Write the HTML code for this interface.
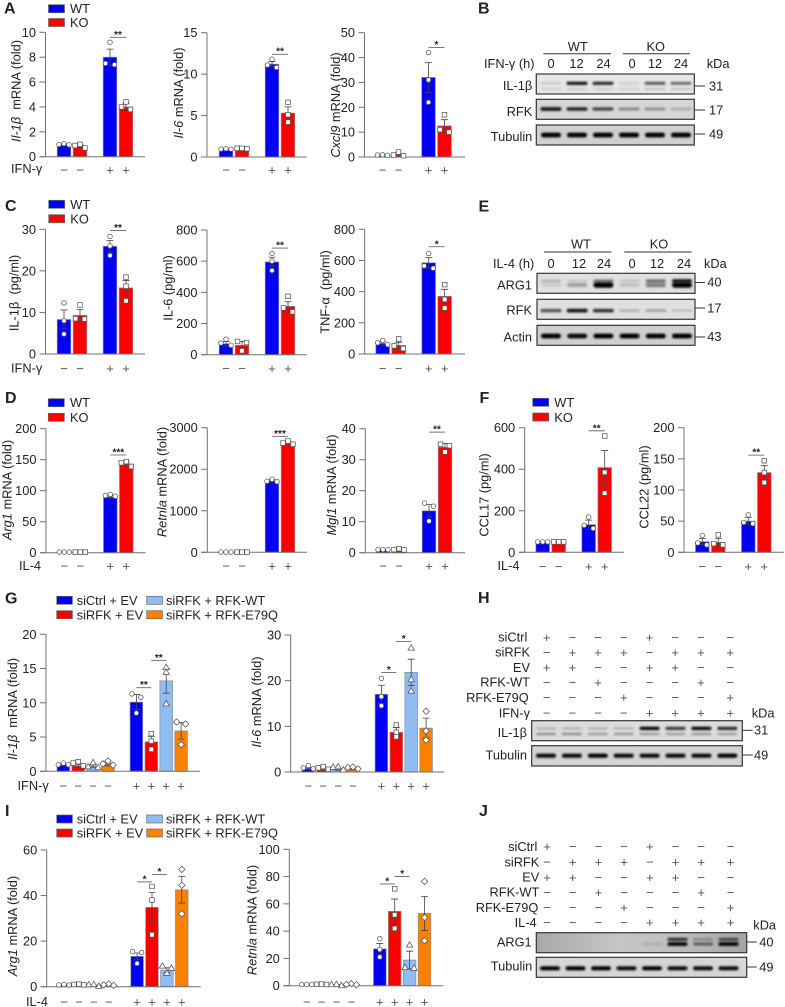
<!DOCTYPE html>
<html lang="en">
<head>
<meta charset="utf-8">
<title>Multi-panel bar charts and western blots</title>
<style>
html,body{margin:0;padding:0;background:#fff;}
svg{display:block;font-family:"Liberation Sans",Arial,sans-serif;}
svg text{fill:#222;font-size:12.8px;}
.panel{font-weight:bold;font-size:16px;fill:#222;}
.it{font-style:italic;}
.rot{text-anchor:middle;}
</style>
</head>
<body>
<svg id="figure" xmlns="http://www.w3.org/2000/svg" width="785" height="1007" viewBox="0 0 785 1007">
  <defs>
    <filter id="band-blur" x="-30%" y="-100%" width="160%" height="300%"><feGaussianBlur stdDeviation="1.1"/></filter>
    <linearGradient id="arg1-bg" x1="0" x2="1" y1="0" y2="0">
      <stop offset="0" stop-color="#a8a8a8"/>
      <stop offset="0.4" stop-color="#c6c6c6"/>
      <stop offset="0.7" stop-color="#bcbcbc"/>
      <stop offset="1" stop-color="#a4a4a4"/>
    </linearGradient>
  </defs>
  <rect width="785" height="1007" fill="#fff"/>

  <g>
    <text class="panel" x="4" y="13.5">A</text>
    <text class="panel" x="478" y="13.5">B</text>
    <text class="panel" x="5" y="211">C</text>
    <text class="panel" x="478.5" y="211.5">E</text>
    <text class="panel" x="5" y="403">D</text>
    <text class="panel" x="479.5" y="403">F</text>
    <text class="panel" x="5" y="603.5">G</text>
    <text class="panel" x="478" y="603">H</text>
    <text class="panel" x="5" y="816">I</text>
    <text class="panel" x="479" y="816">J</text>
  </g>

  <g>
    <text class="rot" transform="translate(20.5,91) rotate(-90)"><tspan class="it">Il-1β</tspan>&#160; mRNA (fold)</text>
    <text class="rot" transform="translate(183,93) rotate(-90)"><tspan class="it">Il-6</tspan> mRNA (fold)</text>
    <text class="rot" transform="translate(340,105) rotate(-90)"><tspan class="it">Cxcl9</tspan> mRNA (fold)</text>
    <text class="rot" transform="translate(18.5,293) rotate(-90)">IL-1β&#160; (pg/ml)</text>
    <text class="rot" transform="translate(172.5,288) rotate(-90)">IL-6 (pg/ml)</text>
    <text class="rot" transform="translate(329.5,292) rotate(-90)">TNF-α&#160; (pg/ml)</text>
    <text class="rot" transform="translate(11.5,490) rotate(-90)"><tspan class="it">Arg1</tspan> mRNA (fold)</text>
    <text class="rot" transform="translate(166.5,482) rotate(-90)"><tspan class="it">Retnla</tspan> mRNA (fold)</text>
    <text class="rot" transform="translate(336,485) rotate(-90)"><tspan class="it">Mgl1</tspan> mRNA (fold)</text>
    <text class="rot" transform="translate(488.5,495) rotate(-90)">CCL17 (pg/ml)</text>
    <text class="rot" transform="translate(648.5,487) rotate(-90)">CCL22 (pg/ml)</text>
    <text class="rot" transform="translate(17,709) rotate(-90)"><tspan class="it">Il-1β</tspan>&#160; mRNA (fold)</text>
    <text class="rot" transform="translate(261,702) rotate(-90)"><tspan class="it">Il-6</tspan> mRNA (fold)</text>
    <text class="rot" transform="translate(17,926) rotate(-90)"><tspan class="it">Arg1</tspan> mRNA (fold)</text>
    <text class="rot" transform="translate(256.5,920) rotate(-90)"><tspan class="it">Retnla</tspan> mRNA (fold)</text>
  </g>

  <g>
    <text x="11" y="173">IFN-γ</text>
    <text x="11" y="372.5">IFN-γ</text>
    <text x="19" y="570">IL-4</text>
    <text x="497.5" y="570">IL-4</text>
    <text x="17.5" y="790">IFN-γ</text>
    <text x="26" y="1006">IL-4</text>
  </g>

  <g>
    <rect x="48.5" y="4.7" width="16" height="8" fill="#0000f5" stroke="#666" stroke-width=".7"/>
    <text x="70" y="13">WT</text>
    <rect x="48.5" y="18.5" width="16" height="8" fill="#fb0000" stroke="#666" stroke-width=".7"/>
    <text x="70" y="27">KO</text>
  </g>
  <g>
    <rect x="48.7" y="200.3" width="16" height="8" fill="#0000f5" stroke="#666" stroke-width=".7"/>
    <text x="70.3" y="209">WT</text>
    <rect x="48.7" y="214.7" width="16" height="8" fill="#fb0000" stroke="#666" stroke-width=".7"/>
    <text x="70.3" y="223.5">KO</text>
  </g>
  <g>
    <rect x="48.3" y="398.7" width="16" height="8" fill="#0000f5" stroke="#666" stroke-width=".7"/>
    <text x="70" y="407">WT</text>
    <rect x="48.3" y="413.3" width="16" height="8" fill="#fb0000" stroke="#666" stroke-width=".7"/>
    <text x="70" y="422">KO</text>
  </g>
  <g>
    <rect x="532.7" y="398.3" width="16" height="8" fill="#0000f5" stroke="#666" stroke-width=".7"/>
    <text x="554.3" y="407">WT</text>
    <rect x="532.7" y="413" width="16" height="8" fill="#fb0000" stroke="#666" stroke-width=".7"/>
    <text x="554.3" y="422">KO</text>
  </g>
  <g>
    <rect x="56.7" y="596.3" width="15.7" height="8" fill="#0000f5" stroke="#666" stroke-width=".7"/>
    <text x="76.7" y="605">siCtrl + EV</text>
    <rect x="56.7" y="610.7" width="15.7" height="8" fill="#fb0000" stroke="#666" stroke-width=".7"/>
    <text x="76.7" y="619.5">siRFK + EV</text>
    <rect x="146.7" y="596.3" width="15.7" height="8" fill="#8fbcf3" stroke="#666" stroke-width=".7"/>
    <text x="166" y="605">siRFK + RFK-WT</text>
    <rect x="146.7" y="610.7" width="15.7" height="8" fill="#fb8200" stroke="#666" stroke-width=".7"/>
    <text x="166" y="619.5">siRFK + RFK-E79Q</text>
  </g>
  <g>
    <rect x="56.7" y="815" width="15.7" height="8" fill="#0000f5" stroke="#666" stroke-width=".7"/>
    <text x="76.7" y="823.5">siCtrl + EV</text>
    <rect x="56.7" y="829" width="15.7" height="8" fill="#fb0000" stroke="#666" stroke-width=".7"/>
    <text x="76.7" y="837.5">siRFK + EV</text>
    <rect x="146.7" y="815" width="15.7" height="8" fill="#8fbcf3" stroke="#666" stroke-width=".7"/>
    <text x="166" y="823.5">siRFK + RFK-WT</text>
    <rect x="146.7" y="829" width="15.7" height="8" fill="#fb8200" stroke="#666" stroke-width=".7"/>
    <text x="166" y="837.5">siRFK + RFK-E79Q</text>
  </g>

  <g id="charts"></g>
  <g id="blots"></g>

  <g>
    <text x="577.7" y="51" text-anchor="middle">WT</text>
    <line x1="543.3" x2="611" y1="53.7" y2="53.7" stroke="#333"/>
    <text x="655.7" y="51" text-anchor="middle">KO</text>
    <line x1="622.7" x2="690" y1="53.7" y2="53.7" stroke="#333"/>
    <text x="484" y="68">IFN-γ (h)</text>
    <text x="551" y="68" text-anchor="middle">0</text>
    <text x="576.5" y="68" text-anchor="middle">12</text>
    <text x="603.5" y="68" text-anchor="middle">24</text>
    <text x="632" y="68" text-anchor="middle">0</text>
    <text x="655" y="68" text-anchor="middle">12</text>
    <text x="681" y="68" text-anchor="middle">24</text>
    <text x="706.7" y="68">kDa</text>
    <text x="532.3" y="90" text-anchor="end">IL-1β</text>
    <text x="532.3" y="116" text-anchor="end">RFK</text>
    <text x="532.3" y="141" text-anchor="end">Tubulin</text>
    <text x="709" y="90.5">31</text>
    <text x="709" y="114.5">17</text>
    <text x="709" y="138.5">49</text>
    <line x1="695" x2="705" y1="86" y2="86" stroke="#333"/>
    <line x1="695" x2="705" y1="110" y2="110" stroke="#333"/>
    <line x1="695" x2="705" y1="134" y2="134" stroke="#333"/>
  </g>
  <g>
    <text x="581" y="248.5" text-anchor="middle">WT</text>
    <line x1="544" x2="611.3" y1="252" y2="252" stroke="#333"/>
    <text x="659" y="248.5" text-anchor="middle">KO</text>
    <line x1="624.3" x2="691.7" y1="252" y2="252" stroke="#333"/>
    <text x="493" y="268">IL-4 (h)</text>
    <text x="551" y="268" text-anchor="middle">0</text>
    <text x="579" y="268" text-anchor="middle">12</text>
    <text x="604" y="268" text-anchor="middle">24</text>
    <text x="632" y="268" text-anchor="middle">0</text>
    <text x="657" y="268" text-anchor="middle">12</text>
    <text x="684" y="268" text-anchor="middle">24</text>
    <text x="704" y="268">kDa</text>
    <text x="532" y="289.5" text-anchor="end">ARG1</text>
    <text x="532" y="314.5" text-anchor="end">RFK</text>
    <text x="532" y="341.5" text-anchor="end">Actin</text>
    <text x="707.3" y="286.5">40</text>
    <text x="707.3" y="312.5">17</text>
    <text x="707.3" y="341">43</text>
    <line x1="695" x2="705" y1="282.5" y2="282.5" stroke="#333"/>
    <line x1="695" x2="705" y1="308" y2="308" stroke="#333"/>
    <line x1="695" x2="705" y1="337" y2="337" stroke="#333"/>
  </g>
  <g>
    <text x="527.3" y="641.5" text-anchor="end">siCtrl</text>
    <text x="530" y="656.5" text-anchor="end">siRFK</text>
    <text x="530" y="672" text-anchor="end">EV</text>
    <text x="530" y="686.5" text-anchor="end">RFK-WT</text>
    <text x="528.7" y="702" text-anchor="end">RFK-E79Q</text>
    <text x="530" y="717.3" text-anchor="end">IFN-γ</text>
    <text x="751.7" y="717.3">kDa</text>
    <text x="527" y="737" text-anchor="end">IL-1β</text>
    <text x="527" y="759.5" text-anchor="end">Tubulin</text>
    <text x="754" y="734.6">31</text>
    <text x="754" y="759.3">49</text>
    <line x1="742.5" x2="752.7" y1="730.3" y2="730.3" stroke="#333"/>
    <line x1="742.5" x2="752.7" y1="755" y2="755" stroke="#333"/>
  </g>
  <g>
    <text x="537.3" y="851" text-anchor="end">siCtrl</text>
    <text x="539.3" y="866.3" text-anchor="end">siRFK</text>
    <text x="539.3" y="881.6" text-anchor="end">EV</text>
    <text x="539.3" y="896.6" text-anchor="end">RFK-WT</text>
    <text x="538.3" y="912" text-anchor="end">RFK-E79Q</text>
    <text x="536.7" y="927" text-anchor="end">IL-4</text>
    <text x="753.3" y="929.3">kDa</text>
    <text x="531.7" y="946.3" text-anchor="end">ARG1</text>
    <text x="532.3" y="970.3" text-anchor="end">Tubulin</text>
    <text x="759.3" y="946.5">40</text>
    <text x="759.3" y="971.3">49</text>
    <line x1="747" x2="756.7" y1="942" y2="942" stroke="#333"/>
    <line x1="747" x2="756.7" y1="967" y2="967" stroke="#333"/>
  </g>
</svg>

<script>
// ---------- chart data ----------
const signs4 = ['−', '−', '+', '+'];
const signs8 = ['−', '−', '−', '−', '+', '+', '+', '+'];

const a1Ticks = [0, 2, 4, 6, 8, 10];
const a1Means = [1, 0.85, 8, 4];
const a1Errors = [0.05, 0.1, 0.65, 0.3];
const a1Points = [[1.05, 0.95, 0.98], [1, 0.7, 0.9], [9.2, 7.4, 7.5], [4.4, 3.8, 4.0]];
const a1Sig = [{ from: 2, to: 3, label: '**', value: 9.6 }];

const a2Ticks = [0, 5, 10, 15];
const a2Means = [0.95, 1, 11.2, 5.3];
const a2Errors = [0.05, 0.05, 0.3, 0.75];
const a2Points = [[1, 0.95, 0.95], [1.05, 1, 1.05], [11.8, 10.8, 11.1], [6.6, 5.1, 4.2]];
const a2Sig = [{ from: 2, to: 3, label: '**', value: 12.4 }];

const a3Ticks = [0, 10, 20, 30, 40, 50];
const a3Means = [0.8, 0.9, 32, 12.5];
const a3Errors = [0.1, 0.3, 6, 2.5];
const a3Points = [[0.9, 0.8, 0.7], [2, 0.5, 0.8], [42, 31, 22], [17, 11, 10]];
const a3Sig = [{ from: 2, to: 3, label: '*', value: 44 }];

const c1Ticks = [0, 10, 20, 30];
const c1Means = [8.3, 9.3, 25.9, 15.9];
const c1Errors = [2.3, 1.4, 1.4, 1.8];
const c1Points = [[12.3, 8, 4.8], [11.8, 8.5, 8.4], [28.3, 26, 23.7], [18.5, 16.3, 12.8]];
const c1Sig = [{ from: 2, to: 3, label: '**', value: 29.7 }];

const c2Ticks = [0, 200, 400, 600, 800];
const c2Means = [70, 60, 595, 310];
const c2Errors = [15, 25, 30, 30];
const c2Points = [[100, 60, 75], [85, 25, 78], [650, 600, 540], [375, 275, 300]];
const c2Sig = [{ from: 2, to: 3, label: '**', value: 684 }];

const c3Ticks = [0, 200, 400, 600, 800];
const c3Means = [68, 55, 585, 370];
const c3Errors = [12, 20, 35, 45];
const c3Points = [[87, 60, 72], [97, 35, 52], [645, 550, 565], [445, 350, 295]];
const c3Sig = [{ from: 2, to: 3, label: '*', value: 688 }];

const d1Ticks = [0, 50, 100, 150, 200];
const d1Means = [0.5, 0.5, 90, 143];
const d1Errors = [0, 0, 2, 3];
const d1Points = [[1, 1, 1], [1, 1, 1], [94, 92, 91], [147, 139, 145]];
const d1Sig = [{ from: 2, to: 3, label: '***', value: 157.6 }];

const d2Ticks = [0, 1000, 2000, 3000];
const d2Means = [10, 10, 1720, 2620];
const d2Errors = [0, 0, 30, 40];
const d2Points = [[5, 5, 5], [5, 5, 5], [1760, 1710, 1700], [2680, 2600, 2630]];
const d2Sig = [{ from: 2, to: 3, label: '***', value: 2793 }];

const d3Ticks = [0, 10, 20, 30, 40];
const d3Means = [0.9, 1, 13.5, 34];
const d3Errors = [0.1, 0.15, 2, 1.2];
const d3Points = [[1, 1, 1], [1.3, 1, 0.9], [16, 15, 10.2], [35, 32.5, 34.5]];
const d3Sig = [{ from: 2, to: 3, label: '**', value: 38.9 }];

const f1Ticks = [0, 200, 400, 600];
const f1Means = [50, 50, 133, 408];
const f1Errors = [1, 1, 22, 82];
const f1Points = [[50, 50, 50], [50, 50, 50], [170, 130, 115], [560, 385, 285]];
const f1Sig = [{ from: 2, to: 3, label: '**', value: 585 }];

const f2Ticks = [0, 50, 100, 150, 200];
const f2Means = [17, 16, 50, 128];
const f2Errors = [5, 6, 6, 11];
const f2Points = [[27, 12, 15], [28, 12, 14], [60, 46, 48], [147, 128, 112]];
const f2Sig = [{ from: 2, to: 3, label: '**', value: 156 }];

const g1Ticks = [0, 5, 10, 15, 20];
const g1Means = [1, 0.8, 0.8, 1, 10.1, 4.3, 13.2, 5.9];
const g1Errors = [0.1, 0.2, 0.2, 0.2, 1.1, 0.8, 1.8, 1.2];
const g1Points = [[1.2, 0.95, 0.95], [1.4, 0.8, 1.2], [1.3, 0.7, 0.6], [1.5, 0.9, 1.1], [11.3, 10.8, 8.5], [5.5, 4.4, 3.2], [15.2, 14.5, 9.9], [7.2, 6.9, 3.9]];
const g1Sig = [{ from: 4, to: 5, label: '**', value: 12.2 }, { from: 5, to: 6, label: '**', value: 16.2 }];

const g2Ticks = [0, 10, 20, 30];
const g2Means = [0.8, 0.6, 0.6, 0.7, 17, 8.7, 21.8, 9.6];
const g2Errors = [0.2, 0.2, 0.2, 0.2, 2, 1, 2.9, 2.2];
const g2Points = [[1.4, 0.7, 0.9], [1.2, 0.6, 0.9], [1.2, 0.5, 1.1], [1, 0.7, 1.1], [20.5, 16.5, 14.5], [10.3, 7.7, 8.7], [27.2, 20.3, 17.8], [13.3, 9, 7]];
const g2Sig = [{ from: 4, to: 5, label: '*', value: 21.8 }, { from: 5, to: 6, label: '*', value: 28.6 }];

const i1Ticks = [0, 20, 40, 60];
const i1Means = [0.8, 0.9, 0.6, 0.8, 13.3, 34.8, 7.3, 42.5];
const i1Errors = [0.1, 0.2, 0.1, 0.2, 1.5, 6.5, 1, 5.8];
const i1Points = [[1, 0.8, 0.7], [1.1, 0.8, 1], [0.3, 1, 1.1], [1.2, 0.8, 0.6], [15.4, 15, 10.2], [44, 38, 22.8], [9.2, 8.2, 6], [51.5, 44.5, 32]];
const i1Sig = [{ from: 4, to: 5, label: '*', value: 46 }, { from: 5, to: 6, label: '*', value: 49.2 }];

const i2Ticks = [0, 20, 40, 60, 80, 100];
const i2Means = [0.8, 1, 0.7, 1, 27, 54.5, 18.8, 53];
const i2Errors = [0.2, 0.3, 0.2, 0.3, 4, 9, 6.5, 12.5];
const i2Points = [[1, 0.9, 0.8], [1, 0.9, 1.2], [0.3, 1.1, 1], [1.4, 0.7, 1], [34.5, 26.5, 21], [71, 52, 42], [30, 13, 13.5], [76.5, 50, 33]];
const i2Sig = [{ from: 4, to: 5, label: '*', value: 74.6 }, { from: 5, to: 6, label: '*', value: 80 }];

// ---------- blot data (band intensity per lane) ----------
const bIl1bUpper = [0.15, 0.95, 0.85, 0.12, 0.65, 0.6];
const bIl1bLower = [0.12, 0.15, 0.15, 0.12, 0.2, 0.2];
const bRfk = [0.9, 0.85, 0.7, 0.4, 0.35, 0.22];
const bTubulin = [1, 1, 1, 1, 1, 1];
const eArg1Upper = [0.22, 0.12, 0.5, 0.15, 0.55, 0.9];
const eArg1Lower = [0.1, 0.3, 1, 0.15, 0.45, 1];
const eRfk = [0.65, 0.9, 0.8, 0.22, 0.3, 0.16];
const eActin = [1, 0.95, 1, 1, 1, 1];
const hIl1bUpper = [0.22, 0.22, 0.22, 0.22, 1, 0.8, 1, 0.85];
const hIl1bLower = [0.42, 0.42, 0.35, 0.38, 0.35, 0.35, 0.38, 0.35];
const hTubulin = [0.95, 0.95, 1, 0.95, 0.95, 0.95, 0.95, 1];
const jArg1Upper = [0, 0, 0, 0, 0, 0.8, 0.3, 0.65];
const jArg1Lower = [0, 0, 0, 0, 0.12, 1, 0.5, 1];
const jTubulin = [1, 1, 1, 0.95, 1, 0.95, 0.95, 0.95];

const conditionSiCtrl = ['+', '−', '−', '−', '+', '−', '−', '−'];
const conditionSiRfk = ['−', '+', '+', '+', '−', '+', '+', '+'];
const conditionEv = ['+', '+', '−', '−', '+', '+', '−', '−'];
const conditionRfkWt = ['−', '−', '+', '−', '−', '−', '+', '−'];
const conditionRfkE79q = ['−', '−', '−', '+', '−', '−', '−', '+'];
const conditionStim = ['−', '−', '−', '−', '+', '+', '+', '+'];

// ---------- helpers ----------
const NS = 'http://www.w3.org/2000/svg';
function make(tag, attrs, parent) {
  const el = document.createElementNS(NS, tag);
  for (const k in attrs) el.setAttribute(k, attrs[k]);
  parent.appendChild(el);
  return el;
}
const COLORS = ['#0000f5', '#fb0000', '#8fbcf3', '#fb8200'];

function yFor(c, v) { return c.y0 - (v / c.max) * (c.y0 - c.yTop); }
function xFor(c, i) {
  const half = c.means.length / 2;
  return c.start + i * c.step + (i >= half ? c.gap : 0);
}
function swarm(values, c) {
  const order = values.map(function (v, i) { return { v: v, i: i }; }).sort(function (a, b) { return b.v - a.v; });
  const off = new Array(values.length).fill(0);
  let cluster = [];
  function flush() {
    if (cluster.length === 2) { off[cluster[0].i] = -4.5; off[cluster[1].i] = 4.5; }
    if (cluster.length === 3) { off[cluster[0].i] = 0; off[cluster[1].i] = -5; off[cluster[2].i] = 5; }
    cluster = [];
  }
  order.forEach(function (p) {
    if (cluster.length && Math.abs(yFor(c, cluster[cluster.length - 1].v) - yFor(c, p.v)) >= 4.5) flush();
    cluster.push(p);
  });
  flush();
  return off;
}
function marker(kind, x, y, parent) {
  const style = { fill: '#fff', stroke: '#555', 'stroke-width': 0.75 };
  if (kind === 0) return make('circle', Object.assign({ cx: x, cy: y, r: 2.3 }, style), parent);
  if (kind === 1) return make('rect', Object.assign({ x: x - 2.3, y: y - 2.3, width: 4.6, height: 4.6 }, style), parent);
  if (kind === 2) return make('path', Object.assign({ d: 'M' + x + ' ' + (y - 3.1) + 'L' + (x + 3.2) + ' ' + (y + 2.4) + 'L' + (x - 3.2) + ' ' + (y + 2.4) + 'Z' }, style), parent);
  return make('path', Object.assign({ d: 'M' + x + ' ' + (y - 3.2) + 'L' + (x + 3.2) + ' ' + y + 'L' + x + ' ' + (y + 3.2) + 'L' + (x - 3.2) + ' ' + y + 'Z' }, style), parent);
}

function drawChart(c) {
  const root = document.getElementById('charts');
  const g = make('g', {}, root);
  
  
  const cycle = c.means.length === 4 ? 2 : 4;

  // bars
  c.means.forEach(function (m, i) {
    const x = xFor(c, i), y = yFor(c, m);
    const bar = make('rect', { x: x - c.barW / 2, y: y, width: c.barW, height: Math.max(0, c.y0 - y), fill: COLORS[i % cycle], stroke: '#8a8a8a', 'stroke-width': 0.7 }, g);
    
    
  });
  // axes
  const yAxis = make('line', { x1: c.axisX, x2: c.axisX, y1: c.yTop, y2: c.y0, stroke: '#707070', 'stroke-width': 1 }, g);
  
  
  const xAxis = make('line', { x1: c.axisX - 6, x2: c.xEnd, y1: c.y0, y2: c.y0, stroke: '#707070', 'stroke-width': 1 }, g);
  
  
  c.ticks.forEach(function (t) {
    const y = yFor(c, t);
    const tick = make('line', { x1: c.axisX - 6, x2: c.axisX, y1: y, y2: y, stroke: '#707070', 'stroke-width': 1 }, g);
    
    
    const label = make('text', { x: c.axisX - 9.5, y: y + 4.5, 'text-anchor': 'end' }, g);
    label.textContent = String(t);
    
    
  });
  // error bars
  c.means.forEach(function (m, i) {
    const e = c.errors[i];
    if (!e) return;
    const x = xFor(c, i), yu = yFor(c, m + e), yl = yFor(c, m - e);
    const err = make('path', { d: 'M' + x + ' ' + yu + 'V' + yl + 'M' + (x - 3.5) + ' ' + yu + 'H' + (x + 3.5) + 'M' + (x - 3.5) + ' ' + yl + 'H' + (x + 3.5), fill: 'none', stroke: '#444', 'stroke-width': 0.8 }, g);
    
    
  });
  // points
  c.points.forEach(function (vals, i) {
    const off = swarm(vals, c);
    vals.forEach(function (v, j) {
      const p = marker(cycle === 2 ? i % 2 : i % 4, xFor(c, i) + off[j], yFor(c, v), g);
      
      
    });
  });
  // signs
  c.signs.forEach(function (s, i) {
    const sign = make('text', { x: xFor(c, i), y: c.signY + 4.5, 'text-anchor': 'middle', style: 'fill:#555;font-size:13px' }, g);
    sign.textContent = s;
    
    
  });
  // significance
  c.sig.forEach(function (s) {
    const x1 = xFor(c, s.from), x2 = xFor(c, s.to), y = yFor(c, s.value);
    const line = make('line', { x1: x1, x2: x2, y1: y, y2: y, stroke: '#555', 'stroke-width': 0.8 }, g);
    
    
    const star = make('text', { x: (x1 + x2) / 2, y: y + 0.5, 'text-anchor': 'middle', style: 'font-size:10px;font-weight:bold;fill:#222' }, g);
    star.textContent = s.label;
    
    
  });
}

function chart4(o, means, errors, points, ticks, sig) {
  drawChart(Object.assign({ means: means, errors: errors, points: points, ticks: ticks, sig: sig, signs: signs4, barW: 13.6, step: 16, gap: 14 }, o));
}
function chart8(o, means, errors, points, ticks, sig) {
  drawChart(Object.assign({ means: means, errors: errors, points: points, ticks: ticks, sig: sig, signs: signs8, barW: 12.6, step: 14.9, gap: 13.5 }, o));
}

chart4({ name: 'a1', axisX: 45.5, y0: 156.7, yTop: 32.3, xEnd: 145, max: 10, start: 64, signY: 170 }, a1Means, a1Errors, a1Points, a1Ticks, a1Sig);
chart4({ name: 'a2', axisX: 207, y0: 157, yTop: 32.7, xEnd: 306.7, max: 15, start: 226, signY: 170 }, a2Means, a2Errors, a2Points, a2Ticks, a2Sig);
chart4({ name: 'a3', axisX: 364.5, y0: 157, yTop: 32.7, xEnd: 465, max: 50, start: 382.5, signY: 170 }, a3Means, a3Errors, a3Points, a3Ticks, a3Sig);
chart4({ name: 'c1', axisX: 45.5, y0: 354, yTop: 229.3, xEnd: 145, max: 30, start: 64, signY: 368.7 }, c1Means, c1Errors, c1Points, c1Ticks, c1Sig);
chart4({ name: 'c2', axisX: 207, y0: 354.7, yTop: 230, xEnd: 306.7, max: 800, start: 226, signY: 368.7 }, c2Means, c2Errors, c2Points, c2Ticks, c2Sig);
chart4({ name: 'c3', axisX: 364.7, y0: 354, yTop: 229.3, xEnd: 465, max: 800, start: 382.7, signY: 368.7 }, c3Means, c3Errors, c3Points, c3Ticks, c3Sig);
chart4({ name: 'd1', axisX: 46, y0: 552.7, yTop: 428.7, xEnd: 145.5, max: 200, start: 64.3, signY: 566 }, d1Means, d1Errors, d1Points, d1Ticks, d1Sig);
chart4({ name: 'd2', axisX: 207.3, y0: 552.3, yTop: 427.7, xEnd: 307, max: 3000, start: 226, signY: 566 }, d2Means, d2Errors, d2Points, d2Ticks, d2Sig);
chart4({ name: 'd3', axisX: 365.3, y0: 552.7, yTop: 428.7, xEnd: 465, max: 40, start: 383, signY: 566 }, d3Means, d3Errors, d3Points, d3Ticks, d3Sig);
chart4({ name: 'f1', axisX: 524.7, y0: 552.3, yTop: 427.7, xEnd: 624, max: 600, start: 542.7, signY: 566.7 }, f1Means, f1Errors, f1Points, f1Ticks, f1Sig);
chart4({ name: 'f2', axisX: 684, y0: 552.3, yTop: 427.7, xEnd: 784, max: 200, start: 702.3, signY: 566.7 }, f2Means, f2Errors, f2Points, f2Ticks, f2Sig);
chart8({ name: 'g1', axisX: 46, y0: 771.3, yTop: 634.3, xEnd: 200, max: 20, start: 63.3, signY: 786 }, g1Means, g1Errors, g1Points, g1Ticks, g1Sig);
chart8({ name: 'g2', axisX: 290.7, y0: 772, yTop: 635, xEnd: 444.3, max: 30, start: 308.3, signY: 786 }, g2Means, g2Errors, g2Points, g2Ticks, g2Sig);
chart8({ name: 'i1', axisX: 46.7, y0: 986.7, yTop: 850, xEnd: 200.7, max: 60, start: 64, signY: 1002 }, i1Means, i1Errors, i1Points, i1Ticks, i1Sig);
chart8({ name: 'i2', axisX: 289.3, y0: 985.7, yTop: 849.3, xEnd: 443.3, max: 100, start: 306.7, signY: 1002 }, i2Means, i2Errors, i2Points, i2Ticks, i2Sig);

// ---------- western blots ----------
function blotRow(o) {
  const root = document.getElementById('blots');
  const g = make('g', {}, root);
  
  
  const frame = make('rect', { x: o.x, y: o.y, width: o.w, height: o.h, fill: o.bg, stroke: '#3a3230', 'stroke-width': 1.2 }, g);
  
  
  o.bands.forEach(function (b) {
    b.values.forEach(function (v, i) {
      if (v <= 0) return;
      const cx = o.start + i * o.step;
      const bh = (b.thick || 3) * (0.6 + 0.5 * v);
      const band = make('rect', { x: cx - o.bandW / 2, y: b.y - bh / 2, width: o.bandW, height: bh, rx: bh / 2, fill: '#000', 'fill-opacity': Math.min(1, v), filter: 'url(#band-blur)' }, g);
      
      
    });
  });
}
blotRow({ name: 'b-il1b', x: 536.3, y: 74, w: 158, h: 20, bg: '#e6e6e6', start: 551, step: 26, bandW: 21, bands: [{ y: 83.3, values: bIl1bUpper, thick: 3 }, { y: 89, values: bIl1bLower, thick: 2.5 }] });
blotRow({ name: 'b-rfk', x: 536.3, y: 99.3, w: 158, h: 20, bg: '#d6d6d6', start: 551, step: 26, bandW: 21, bands: [{ y: 109, values: bRfk, thick: 3.5 }] });
blotRow({ name: 'b-tubulin', x: 536.3, y: 125, w: 158, h: 20, bg: '#d0d0d0', start: 551, step: 26, bandW: 20, bands: [{ y: 135, values: bTubulin, thick: 4.4 }] });
blotRow({ name: 'e-arg1', x: 537, y: 273.3, w: 158, h: 20, bg: '#e0e0e0', start: 551, step: 26.2, bandW: 20, bands: [{ y: 281, values: eArg1Upper, thick: 3.5 }, { y: 285, values: eArg1Lower, thick: 5 }] });
blotRow({ name: 'e-rfk', x: 537, y: 299.3, w: 158, h: 20, bg: '#e0e0e0', start: 551, step: 26.2, bandW: 21, bands: [{ y: 310.6, values: eRfk, thick: 3.5 }] });
blotRow({ name: 'e-actin', x: 537, y: 325.3, w: 158, h: 20, bg: '#d0d0d0', start: 551, step: 26.2, bandW: 20, bands: [{ y: 336, values: eActin, thick: 4.4 }] });
blotRow({ name: 'h-il1b', x: 531.7, y: 720.7, w: 210.6, h: 20, bg: '#dcdcdc', start: 546, step: 25.9, bandW: 20, bands: [{ y: 728.4, values: hIl1bUpper, thick: 3 }, { y: 734, values: hIl1bLower, thick: 2.5 }] });
blotRow({ name: 'h-tubulin', x: 531.7, y: 745.7, w: 210.6, h: 20.3, bg: '#d4d4d4', start: 546, step: 25.9, bandW: 20, bands: [{ y: 755.7, values: hTubulin, thick: 3.8 }] });
blotRow({ name: 'j-arg1', x: 536.3, y: 932.7, w: 210.4, h: 20, bg: 'url(#arg1-bg)', start: 550, step: 25.5, bandW: 20, bands: [{ y: 939.4, values: jArg1Upper, thick: 3 }, { y: 944, values: jArg1Lower, thick: 3.5 }] });
blotRow({ name: 'j-tubulin', x: 536.3, y: 957.3, w: 210.4, h: 20, bg: '#d6d6d6', start: 550, step: 25.5, bandW: 20, bands: [{ y: 968.3, values: jTubulin, thick: 3.8 }] });

function conditionRow(values, start, y) {
  const root = document.getElementById('blots');
  values.forEach(function (s, i) {
    const t = make('text', { x: start + i * 25.7 + (i === 7 ? 3.6 : 0), y: y + 4.5, 'text-anchor': 'middle', style: 'fill:#555;font-size:13px' }, root);
    t.textContent = s;
    
    
  });
}
conditionRow(conditionSiCtrl, 546.7, 637.3);
conditionRow(conditionSiRfk, 546.7, 652.3);
conditionRow(conditionEv, 546.7, 667.7);
conditionRow(conditionRfkWt, 546.7, 682.3);
conditionRow(conditionRfkE79q, 546.7, 697.7);
conditionRow(conditionStim, 546.7, 713);
conditionRow(conditionSiCtrl, 547, 846.7);
conditionRow(conditionSiRfk, 547, 862);
conditionRow(conditionEv, 547, 877.3);
conditionRow(conditionRfkWt, 547, 892.3);
conditionRow(conditionRfkE79q, 547, 907.7);
conditionRow(conditionStim, 547, 922.7);
</script>
</body>
</html>
